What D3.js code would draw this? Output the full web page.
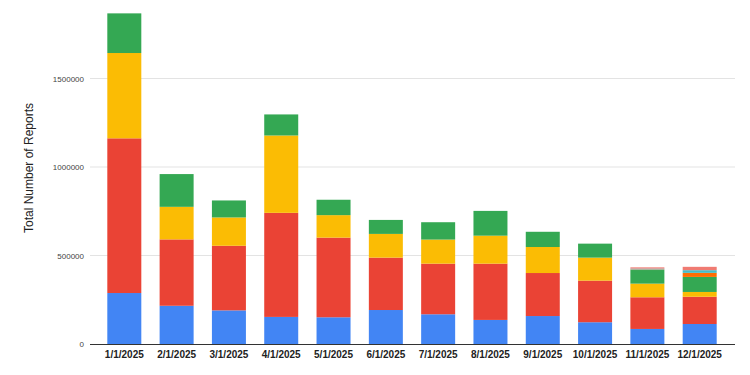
<!DOCTYPE html>
<html>
<head>
<meta charset="utf-8">
<script src="https://cdn.jsdelivr.net/npm/d3@7"></script>
<style>
  body { margin: 0; background: #fff; }
  svg { display: block; font-family: "Liberation Sans", Arial, sans-serif; }
</style>
</head>
<body>
<svg width="750" height="375"></svg>
<script>
// months on the x axis
var months = ["1/1/2025", "2/1/2025", "3/1/2025", "4/1/2025", "5/1/2025", "6/1/2025",
              "7/1/2025", "8/1/2025", "9/1/2025", "10/1/2025", "11/1/2025", "12/1/2025"];

// stacked series, bottom to top
var blue   = [288000, 216000, 190000, 153000, 151000, 192000, 168000, 136000, 158000, 123000, 85000, 113000];
var red    = [874000, 375000, 365000, 588000, 450000, 296000, 286000, 318000, 243000, 235000, 179000, 154000];
var yellow = [482000, 184000, 160000, 437000, 127000, 134000, 136000, 158000, 147000, 130000, 77000, 27000];
var green  = [224000, 185000, 96000, 119000, 87000, 79000, 98000, 140000, 86000, 79000, 77000, 85000];
var orange = [0, 0, 0, 0, 0, 0, 0, 0, 0, 0, 3000, 23000];
var teal   = [0, 0, 0, 0, 0, 0, 0, 0, 0, 0, 5000, 15000];
var pink   = [0, 0, 0, 0, 0, 0, 0, 0, 0, 0, 7000, 19000];

var yTicks = [0, 500000, 1000000, 1500000];

var seriesNames = ["blue", "red", "yellow", "green", "orange", "teal", "pink"];
var seriesVals = [blue, red, yellow, green, orange, teal, pink];
var colors = ["#4285F4", "#EA4335", "#FBBC04", "#34A853", "#FF6D01", "#46BDC6", "#F07B72"];

var rows = months.map(function(m, i){
	var r = {month: m};
	seriesNames.forEach(function(s, j){ r[s] = seriesVals[j][i]; });
	return r;
});

var svg = d3.select("svg");

var x = d3.scaleBand().domain(months).range([89, 735]).padding(0.35);
var y = d3.scaleLinear().domain([0, 2000000]).range([344, -10]);

// gridlines
svg.append("g").selectAll("line")
	.data(yTicks.slice(1))
	.enter().append("line")
	.attr("x1", 90).attr("x2", 735)
	.attr("y1", function(d){ return y(d); })
	.attr("y2", function(d){ return y(d); })
	.attr("stroke", "#e3e3e3").attr("stroke-width", 1);

// y tick labels
svg.append("g").selectAll("text")
	.data(yTicks)
	.enter().append("text")
	.attr("x", 84)
	.attr("y", function(d){ return y(d) + 3; })
	.attr("text-anchor", "end")
	.attr("font-size", 8)
	.attr("fill", "#444")
	.text(function(d){ return d; });

// stacked bars
var stack = d3.stack().keys(seriesNames)(rows);
svg.append("g").selectAll("g")
	.data(stack)
	.enter().append("g")
	.attr("fill", function(d, i){ return colors[i]; })
	.selectAll("rect")
	.data(function(d){ return d; })
	.enter().append("rect")
	.attr("x", function(d){ return x(d.data.month); })
	.attr("width", x.bandwidth())
	.attr("y", function(d){ return y(d[1]); })
	.attr("height", function(d){ return y(d[0]) - y(d[1]); });

// baseline
svg.append("line")
	.attr("x1", 90).attr("x2", 735)
	.attr("y1", y(0) + 0.5).attr("y2", y(0) + 0.5)
	.attr("stroke", "#333").attr("stroke-width", 1);

// x labels
svg.append("g").selectAll("text")
	.data(months)
	.enter().append("text")
	.attr("x", function(d){ return x(d) + x.bandwidth() / 2; })
	.attr("y", 358)
	.attr("text-anchor", "middle")
	.attr("font-size", 10)
	.attr("font-weight", "bold")
	.attr("fill", "#222")
	.text(function(d){ return d; });

// y axis title
svg.append("text")
	.attr("transform", "translate(33,168)rotate(-90)")
	.attr("text-anchor", "middle")
	.attr("font-size", 12)
	.attr("fill", "#222")
	.text("Total Number of Reports");
</script>
</body>
</html>
